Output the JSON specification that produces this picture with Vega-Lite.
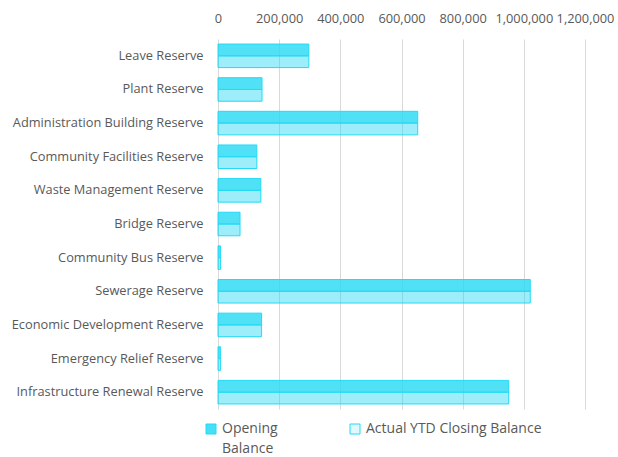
{
  "$schema": "https://vega.github.io/schema/vega-lite/v6.json",
  "autosize": "none",
  "width": 367,
  "height": 370,
  "padding": {"left": 218, "top": 39, "right": 33, "bottom": 48},
  "background": "white",
  "config": {
    "view": {"stroke": null},
    "font": "Open Sans",
    "axis": {"labelColor": "#595959", "labelFont": "Open Sans", "labelFontSize": 12.8, "gridColor": "#D9D9D9", "gridWidth": 1, "domain": false, "ticks": false, "tickSize": 0, "title": null},
    "legend": {"labelColor": "#595959", "labelFont": "Open Sans", "labelFontSize": 14, "padding": 0}
  },
  "data": {
    "values": [
      {"reserve": "Leave Reserve", "series": "Opening Balance", "value": 297000},
      {"reserve": "Leave Reserve", "series": "Actual YTD Closing Balance", "value": 297000},
      {"reserve": "Plant Reserve", "series": "Opening Balance", "value": 144000},
      {"reserve": "Plant Reserve", "series": "Actual YTD Closing Balance", "value": 144000},
      {"reserve": "Administration Building Reserve", "series": "Opening Balance", "value": 653000},
      {"reserve": "Administration Building Reserve", "series": "Actual YTD Closing Balance", "value": 653000},
      {"reserve": "Community Facilities Reserve", "series": "Opening Balance", "value": 127000},
      {"reserve": "Community Facilities Reserve", "series": "Actual YTD Closing Balance", "value": 127000},
      {"reserve": "Waste Management Reserve", "series": "Opening Balance", "value": 140000},
      {"reserve": "Waste Management Reserve", "series": "Actual YTD Closing Balance", "value": 140000},
      {"reserve": "Bridge Reserve", "series": "Opening Balance", "value": 72000},
      {"reserve": "Bridge Reserve", "series": "Actual YTD Closing Balance", "value": 72000},
      {"reserve": "Community Bus Reserve", "series": "Opening Balance", "value": 8000},
      {"reserve": "Community Bus Reserve", "series": "Actual YTD Closing Balance", "value": 8000},
      {"reserve": "Sewerage Reserve", "series": "Opening Balance", "value": 1021000},
      {"reserve": "Sewerage Reserve", "series": "Actual YTD Closing Balance", "value": 1021000},
      {"reserve": "Economic Development Reserve", "series": "Opening Balance", "value": 142500},
      {"reserve": "Economic Development Reserve", "series": "Actual YTD Closing Balance", "value": 142500},
      {"reserve": "Emergency Relief Reserve", "series": "Opening Balance", "value": 8000},
      {"reserve": "Emergency Relief Reserve", "series": "Actual YTD Closing Balance", "value": 8000},
      {"reserve": "Infrastructure Renewal Reserve", "series": "Opening Balance", "value": 950500},
      {"reserve": "Infrastructure Renewal Reserve", "series": "Actual YTD Closing Balance", "value": 950500}
    ]
  },
  "mark": {"type": "bar", "stroke": "#25DAF5", "strokeWidth": 1},
  "encoding": {
    "y": {
      "field": "reserve", "type": "nominal", "sort": null,
      "scale": {"paddingInner": 0.3, "paddingOuter": 0.15},
      "axis": {"labelPadding": 15, "grid": false, "labelLimit": 300}
    },
    "x": {
      "field": "value", "type": "quantitative",
      "scale": {"domain": [0, 1200000], "nice": false},
      "axis": {"orient": "top", "values": [0, 200000, 400000, 600000, 800000, 1000000, 1200000], "format": ",d", "labelPadding": 14, "grid": true, "labelFlush": false}
    },
    "yOffset": {"field": "series", "type": "nominal", "sort": ["Opening Balance", "Actual YTD Closing Balance"], "scale": {"paddingInner": 0, "paddingOuter": 0}},
    "color": {
      "field": "series", "type": "nominal", "sort": ["Opening Balance", "Actual YTD Closing Balance"],
      "scale": {"range": ["#25DAF5", "#25DAF5"]},
      "legend": {
        "title": null, "orient": "none", "direction": "horizontal", "legendX": -14, "legendY": 383,
        "symbolType": "square", "symbolSize": 100, "symbolStrokeColor": "#25DAF5", "symbolStrokeWidth": 1,
        "columnPadding": 70, "labelOffset": 4, "labelBaseline": "middle", "labelLimit": 300,
        "labelExpr": "datum.label == 'Opening Balance' ? ['Opening', ' Balance'] : [datum.label, ' ']",
        "encode": {
          "symbols": {"update": {"fillOpacity": {"signal": "datum.value == 'Opening Balance' ? 0.85 : 0.15"}}},
          "labels": {"update": {"lineHeight": {"value": 20}}}
        }
      }
    },
    "fillOpacity": {
      "field": "series", "type": "nominal", "sort": ["Opening Balance", "Actual YTD Closing Balance"],
      "scale": {"range": [0.8, 0.45]},
      "legend": null
    }
  }
}
